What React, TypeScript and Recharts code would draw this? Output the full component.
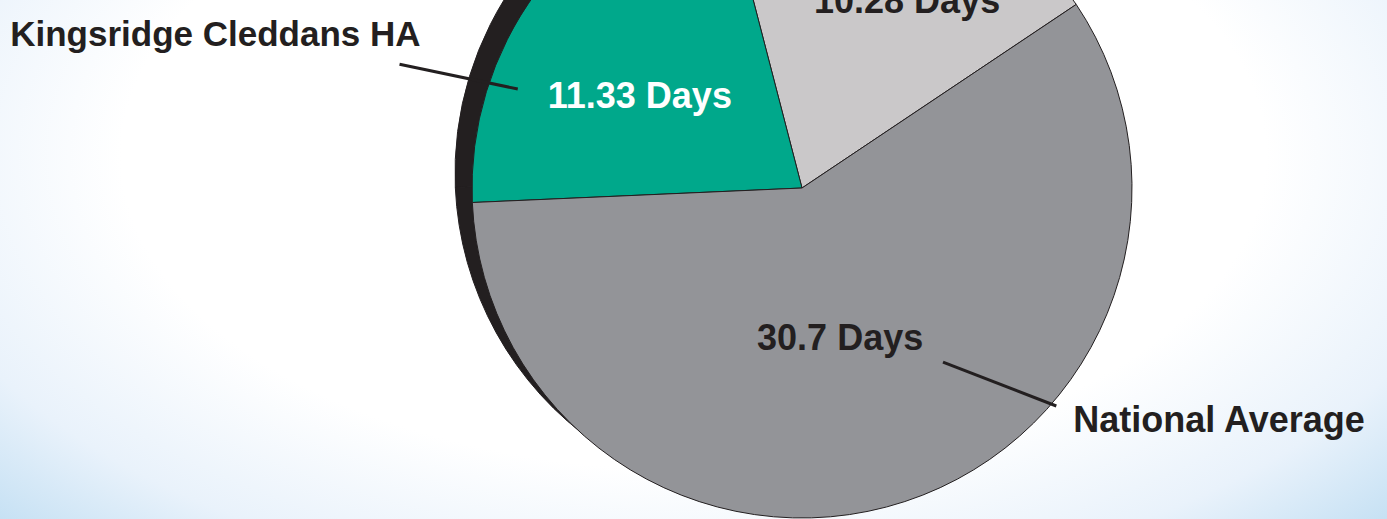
import React from 'react';
import { PieChart, Pie, Cell } from 'recharts';

const names = ['', 'Kingsridge Cleddans HA', 'National Average'];
const days = [10.28, 11.33, 30.7];
const valueLabels = ['10.28 Days', '11.33 Days', '30.7 Days'];

const colors = ['#cac8c9', '#00a88b', '#939498'];
const ink = '#231f20';
const font = '"Liberation Sans", Arial, sans-serif';

const data = names.map((name, i) => ({ name, value: days[i] }));

// where the value text sits inside each slice: radius share and angle nudge
const inner = [
  { r: 0.618, nudge: -10.2, fill: ink },
  { r: 0.548, nudge: 10.2, fill: '#ffffff' },
  { r: 0.504, nudge: -4.9, fill: ink },
];
// leader lines for the slice names (from / to radius share, angles)
const callouts: Record<number, any> = {
  1: { a1: 160.8, r1: 0.912, a2: 162.9, r2: 1.276, dx: 21, dy: -18, anchor: 'end', size: 35 },
  2: { a1: -51, r1: 0.679, a2: -40.6, r2: 1.015, dx: 17, dy: 26, anchor: 'start', size: 36 },
};

const RAD = Math.PI / 180;
const polar = (cx: number, cy: number, r: number, deg: number) => ({
  x: cx + r * Math.cos(-deg * RAD),
  y: cy + r * Math.sin(-deg * RAD),
});

const renderLabel = (props: any) => {
  const { cx, cy, midAngle, outerRadius, index } = props;
  const s = inner[index];
  const p = polar(cx, cy, outerRadius * s.r, midAngle + s.nudge);
  const c = callouts[index];
  let extra = null;
  if (c) {
    const a = polar(cx, cy, outerRadius * c.r1, c.a1);
    const b = polar(cx, cy, outerRadius * c.r2, c.a2);
    extra = (
      <g>
        <line x1={a.x} y1={a.y} x2={b.x} y2={b.y} stroke={ink} strokeWidth={3} />
        <text
          x={b.x + c.dx}
          y={b.y + c.dy}
          textAnchor={c.anchor}
          fill={ink}
          fontFamily={font}
          fontWeight={700}
          fontSize={c.size}
        >
          {names[index]}
        </text>
      </g>
    );
  }
  return (
    <g>
      <text
        x={p.x}
        y={p.y}
        textAnchor="middle"
        fill={s.fill}
        fontFamily={font}
        fontWeight={700}
        fontSize={36}
      >
        {valueLabels[index]}
      </text>
      {extra}
    </g>
  );
};

export default function App() {
  return (
    <div
      style={{
        position: 'absolute',
        left: 0,
        top: 0,
        width: 1387,
        height: 519,
        overflow: 'hidden',
        background:
          'radial-gradient(ellipse 75% 110% at 50% 30%, #ffffff 55%, #e9f2fb 77%, #b4d8f0 100%)',
      }}
    >
      <PieChart width={1387} height={519} margin={{ top: 0, right: 0, bottom: 0, left: 0 }}>
        <Pie
          data={data}
          dataKey="value"
          cx={785}
          cy={173}
          outerRadius={330}
          startAngle={33.8}
          endAngle={393.8}
          fill={ink}
          stroke={ink}
          isAnimationActive={false}
          label={false}
          labelLine={false}
        />
        <Pie
          data={data}
          dataKey="value"
          cx={802}
          cy={188}
          outerRadius={330}
          startAngle={33.8}
          endAngle={393.8}
          stroke={ink}
          strokeWidth={1}
          isAnimationActive={false}
          label={renderLabel}
          labelLine={false}
        >
          {data.map((d, i) => (
            <Cell key={d.value} fill={colors[i]} />
          ))}
        </Pie>
      </PieChart>
    </div>
  );
}
